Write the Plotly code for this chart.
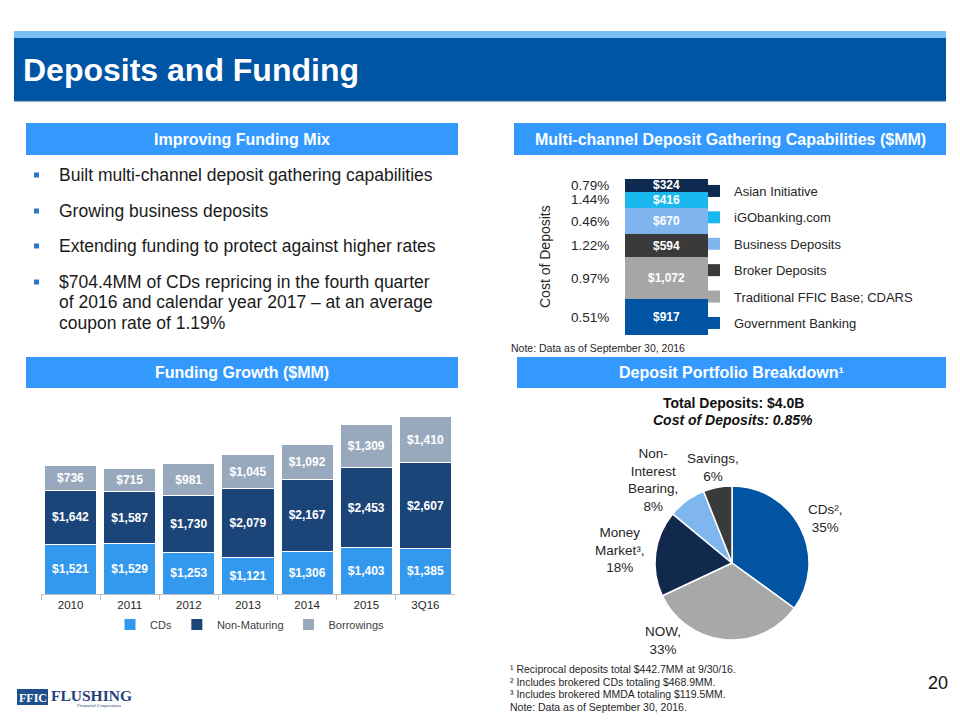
import plotly.graph_objects as go

W, H = 960, 720


def fx(px):
    return px / W


def fy(py):
    return 1 - py / H


# ---------------- data ----------------
years = ["2010", "2011", "2012", "2013", "2014", "2015", "3Q16"]
cds = [1521, 1529, 1253, 1121, 1306, 1403, 1385]
non_maturing = [1642, 1587, 1730, 2079, 2167, 2453, 2607]
borrowings = [736, 715, 981, 1045, 1092, 1309, 1410]

channel_names = ["Government Banking", "Traditional FFIC Base; CDARS", "Broker Deposits",
                 "Business Deposits", "iGObanking.com", "Asian Initiative"]
channel_values = [917, 1072, 594, 670, 416, 324]
channel_costs = ["0.51%", "0.97%", "1.22%", "0.46%", "1.44%", "0.79%"]

pie_labels = ["CDs²", "NOW", "Money Market³", "Non-Interest Bearing", "Savings"]
pie_label_text = ["CDs²,", "NOW,", "Money<br>Market³,", "Non-<br>Interest<br>Bearing,", "Savings,"]
pie_values = [35, 33, 18, 8, 6]

bullets = [
    ["Built multi-channel deposit gathering capabilities"],
    ["Growing business deposits"],
    ["Extending funding to protect against higher rates"],
    ["$704.4MM of CDs repricing in the fourth quarter",
     "of 2016 and calendar year 2017 – at an average",
     "coupon rate of 1.19%"],
]
footnotes = ["¹ Reciprocal deposits total $442.7MM at 9/30/16.",
             "² Includes brokered CDs totaling $468.9MM.",
             "³ Includes brokered MMDA totaling $119.5MM.",
             "Note: Data as of September 30, 2016."]

# ---------------- styles ----------------
FONT = "Liberation Sans, Arial, sans-serif"
TXT = "#262626"
funding_colors = ["#3399EE", "#1B4478", "#98A9BE"]
channel_colors = ["#0054A2", "#A6A6A6", "#3A3A3A", "#7FB4EE", "#1BB8F0", "#0F2A50"]
pie_colors = ["#0054A2", "#A8A8A8", "#10294D", "#80B6EE", "#3A3A3A"]
SECTION = "#3399FF"

fig = go.Figure()

# ---------------- Funding growth stacked bars ----------------
for r, (name, vals, col) in enumerate(zip(["CDs", "Non-Maturing", "Borrowings"],
                                          [cds, non_maturing, borrowings], funding_colors)):
    fig.add_trace(go.Bar(
        x=years, y=vals, name=name, marker=dict(color=col, line=dict(color="white", width=1)),
        texttemplate="$%{y:,.0f}", textposition="inside", insidetextanchor="middle",
        textangle=0, constraintext="none",
        textfont=dict(family=FONT, size=12, color="white", weight="bold"),
        xaxis="x", yaxis="y", legend="legend", legendrank=r + 1, hoverinfo="x+y+name",
    ))

# ---------------- Multi-channel single stacked bar ----------------
n = len(channel_names)
for i, (name, val, col) in enumerate(zip(channel_names, channel_values, channel_colors)):
    fig.add_trace(go.Bar(
        x=[0], y=[val], name=name, width=1, marker=dict(color=col, line=dict(width=0)),
        texttemplate="$%{y:,.0f}", textposition="inside", insidetextanchor="middle",
        textangle=0, constraintext="none",
        textfont=dict(family=FONT, size=12, color="white", weight="bold"),
        xaxis="x2", yaxis="y2", legend="legend2", legendgroup=f"g{i}",
        legendrank=n - i, hoverinfo="y+name",
    ))

# ---------------- Pie ----------------
fig.add_trace(go.Pie(
    labels=pie_labels, values=pie_values, sort=False, direction="clockwise", rotation=0,
    marker=dict(colors=pie_colors, line=dict(color="white", width=1.5)),
    textinfo="none", showlegend=False,
    domain=dict(x=[fx(655), fx(809)], y=[fy(640), fy(486)]),
))

shapes = []
annotations = []


def rect(x0, y0, x1, y1, color):
    shapes.append(dict(type="rect", xref="paper", yref="paper", x0=fx(x0), x1=fx(x1),
                       y0=fy(y1), y1=fy(y0), fillcolor=color, line=dict(width=0), layer="below"))


def text(t, x, y, size, color=TXT, xanchor="left", yanchor="middle", family=FONT, align="left", **kw):
    annotations.append(dict(text=t, x=fx(x), y=fy(y), xref="paper", yref="paper",
                            xanchor=xanchor, yanchor=yanchor, showarrow=False, align=align,
                            font=dict(family=family, size=size, color=color), **kw))


# header
rect(14, 31, 946, 38, "#7BBEF6")
rect(14, 38, 946, 101, "#0054A4")
rect(14, 100, 946, 101.5, "#1F5F9E")
text("<b>Deposits and Funding</b>", 21, 70, 32, "white")

# section headers
for (x0, y0, x1, y1, t) in [(26, 123, 458, 155, "Improving Funding Mix"),
                            (514, 123, 946, 155, "Multi-channel Deposit Gathering Capabilities ($MM)"),
                            (26, 357, 458, 388, "Funding Growth ($MM)"),
                            (517, 357, 946, 388, "Deposit Portfolio Breakdown¹")]:
    rect(x0, y0, x1, y1, SECTION)
    text(f"<b>{t}</b>", (x0 + x1) / 2, (y0 + y1) / 2, 16, "white", xanchor="center")

# bullets
bullet_y = [175, 211, 246, 282]
for lines, by in zip(bullets, bullet_y):
    shapes.append(dict(type="rect", xref="paper", yref="paper", x0=fx(34), x1=fx(39),
                       y0=fy(by + 2.5), y1=fy(by - 2.5), fillcolor="#2A78C8", line=dict(width=0)))
    for k, ln in enumerate(lines):
        text(ln, 57, by + k * 20.5, 17.5, "#1A1A1A")

# multi-channel extras
cum = 0
for val, cost in zip(channel_values, channel_costs):
    annotations.append(dict(text=cost, x=fx(611), xref="paper", y=cum + val / 2, yref="y2",
                            xanchor="right", yanchor="middle", showarrow=False,
                            font=dict(family=FONT, size=13.5, color=TXT)))
    cum += val
text("Cost of Deposits", 545, 257, 14, TXT, xanchor="center", textangle=-90)
text("Note: Data as of September 30, 2016", 509, 348, 10.5, TXT)

# pie titles and labels
text("<b>Total Deposits: $4.0B</b>", 733, 403, 14, "#111111", xanchor="center")
text("<b><i>Cost of Deposits: 0.85%</i></b>", 733, 420, 14, "#111111", xanchor="center")
pie_label_pos = [(825, 518), (663, 640), (620, 550), (653, 480), (713, 467)]
for lab, v, (px_, py_) in zip(pie_label_text, pie_values, pie_label_pos):
    text(f"{lab}<br>{v}%", px_, py_, 13.5, TXT, xanchor="center", align="center")

# footnotes
for k, ln in enumerate(footnotes):
    text(ln, 508, 669 + k * 12.7, 10.5, TXT)
text("20", 950, 683, 18, "#111111", xanchor="right")

# logo
rect(17, 689, 48, 705, "#1F4E8C")
text("<b>FFIC</b>", 32.5, 697.5, 12, "white", xanchor="center",
     family="Liberation Serif, Times New Roman, serif")
text("<b>FLUSHING</b>", 49, 695.5, 15.5, "#1F3F7A",
     family="Liberation Serif, Times New Roman, serif")
text("Financial Corporation", 124, 705, 5, "#1F3F7A", xanchor="right",
     family="Liberation Serif, Times New Roman, serif")

fig.update_layout(
    width=W, height=H, autosize=False,
    margin=dict(l=0, r=0, t=0, b=0),
    paper_bgcolor="white", plot_bgcolor="rgba(0,0,0,0)",
    barmode="stack", bargap=0.12,
    uniformtext=dict(minsize=12, mode="show"),
    font=dict(family=FONT, color=TXT),
    xaxis=dict(domain=[fx(41), fx(455)], anchor="y", type="category",
               showline=True, linecolor="#BFBFBF", linewidth=1,
               ticks="outside", tickson="boundaries", ticklen=5, tickcolor="#BFBFBF",
               tickfont=dict(size=11.5, color=TXT), showgrid=False, fixedrange=True),
    yaxis=dict(domain=[fy(594), fy(410)], anchor="x", range=[0, 5600], visible=False,
               fixedrange=True),
    xaxis2=dict(domain=[fx(625), fx(708)], anchor="y2", range=[-0.5, 0.5], visible=False,
                fixedrange=True),
    yaxis2=dict(domain=[fy(335), fy(179)], anchor="x2", range=[0, sum(channel_values)],
                visible=False, fixedrange=True),
    legend=dict(orientation="h", x=fx(250), xanchor="center", y=fy(610), yanchor="top",
                font=dict(size=11, color="#404040"), itemwidth=30, traceorder="normal",
                bgcolor="rgba(0,0,0,0)"),
    legend2=dict(orientation="v", x=fx(694), xanchor="left", y=fy(176), yanchor="top",
                 font=dict(size=13, color=TXT), traceorder="grouped",
                 tracegroupgap=6.5, itemwidth=30, bgcolor="rgba(0,0,0,0)"),
    shapes=shapes, annotations=annotations,
    showlegend=True,
)

fig.write_html("out.html", config={"displayModeBar": False},
               post_script="document.body.style.margin='0';document.body.style.overflow='hidden';")
